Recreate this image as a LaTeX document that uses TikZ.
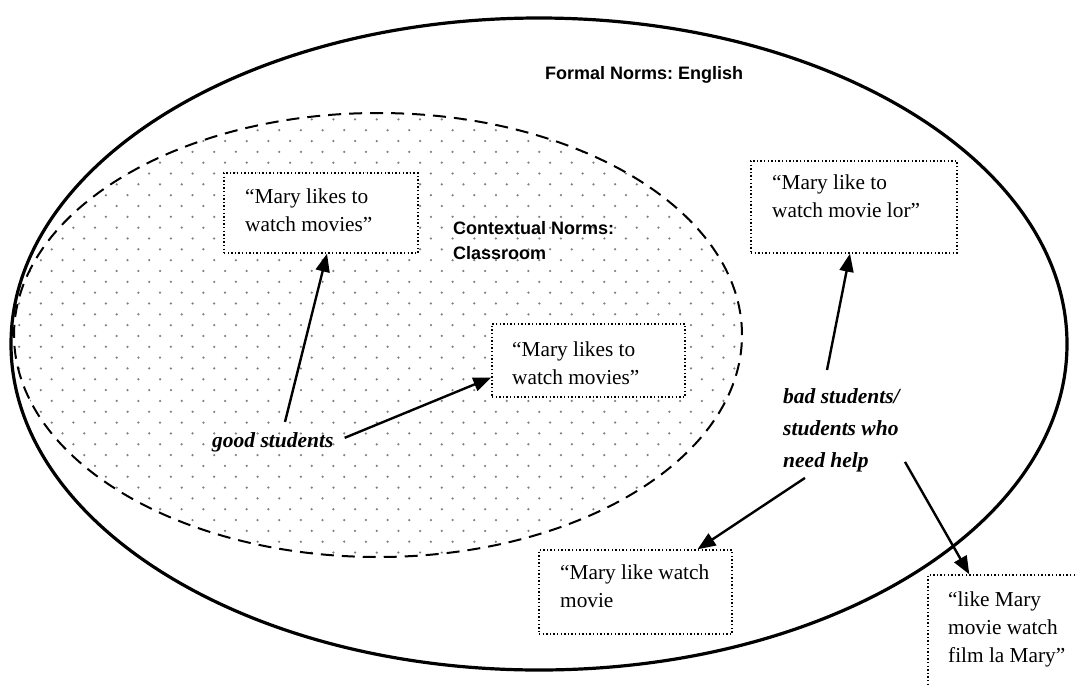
\documentclass[tikz,border=0pt]{standalone}
\usepackage{fontspec}
\setmainfont{Liberation Serif}
\newfontfamily\headfont{Liberation Sans}
\usetikzlibrary{arrows.meta,calc}
\definecolor{dotgray}{gray}{0.5}
\frenchspacing

\begin{document}
\begin{tikzpicture}[x=1pt,y=-1pt,
  normbox/.style={draw, rectangle, line width=1.4pt, dash pattern=on 1.4pt off 2.2pt, fill=white, inner sep=0pt},
  quote/.style={anchor=north west, align=left, inner sep=0pt, font=\fontsize{21.3}{28}\selectfont},
  who/.style={align=left, inner sep=0pt, font=\fontsize{21.5}{32}\selectfont\bfseries\itshape},
  normlabel/.style={inner sep=0pt, align=left, font=\headfont\fontsize{18}{25}\selectfont\bfseries},
  pointer/.style={line width=2.4pt, -{Triangle[length=18pt,width=14pt]}},
]
\useasboundingbox (0,0) rectangle (1076,686);
\clip (0,0) rectangle (1076,686);

% dotted fill of the classroom region
\begin{scope}
  \clip (378,335) ellipse [x radius=364pt, y radius=222pt];
  \foreach \r in {0,...,42} {
    \foreach \c in {0,...,35} {
      \fill[dotgray] ({8.36 + 21.67*\c + 10.83*mod(\r,2)}, {97.7 + 10.83*\r}) circle [radius=1.25pt];
    }
  }
\end{scope}

% contextual norms (dashed) and formal norms (solid)
\draw[line width=2pt, dash pattern=on 13pt off 8pt] (378,335) ellipse [x radius=364pt, y radius=222pt];
\draw[line width=3.2pt] (539,344) ellipse [x radius=528pt, y radius=326pt];

% labels of the two norm regions
\node[normlabel, anchor=base west] (formal) at (545,79) {Formal Norms: English};
\node[normlabel, anchor=north west] (context) at (453,221.5) {Contextual Norms:\\Classroom};

% sentence boxes
\node[normbox, minimum width=194pt, minimum height=80pt] (b1) at (321,213) {};
\node[quote] (t1) at (245,188.3) {“Mary likes to\\watch movies”};

\node[normbox, minimum width=193pt, minimum height=73pt] (b2) at (588.5,360.5) {};
\node[quote] (t2) at (512,341.3) {“Mary likes to\\watch movies”};

\node[normbox, minimum width=206pt, minimum height=92pt] (b3) at (854,207) {};
\node[quote] (t3) at (772,174.3) {“Mary like to\\watch movie lor”};

\node[normbox, minimum width=193pt, minimum height=84pt] (b4) at (635.5,592) {};
\node[quote] (t4) at (560,564.3) {“Mary like watch\\movie};

\node[normbox, minimum width=172pt, minimum height=145pt] (b5) at (1014,647.5) {};
\node[quote] (t5) at (948,591.3) {“like Mary\\movie watch\\film la Mary”};

% learner groups
\node[who, anchor=base west] (good) at (212,447) {good students};
\node[who, anchor=north west] (bad) at (783,388) {bad students/\\students who\\need help};

% pointers from groups to sentences
\draw[pointer] ($(good.north west)+(73,-10)$) -- ($(b1.south)+(6,0)$);
\draw[pointer] ($(good.east)+(11,-4)$) -- ($(b2.west)+(0,17)$);
\draw[pointer] ($(bad.north west)+(44,-18)$) -- ($(b3.south)+(-4,0)$);
\draw[pointer] ($(bad.south west)+(22,6)$) -- ($(b4.north)+(62,0)$);
\draw[pointer] ($(bad.south west)+(122,-10)$) -- ($(b5.north west)+(42,0)$);
\end{tikzpicture}
\end{document}
